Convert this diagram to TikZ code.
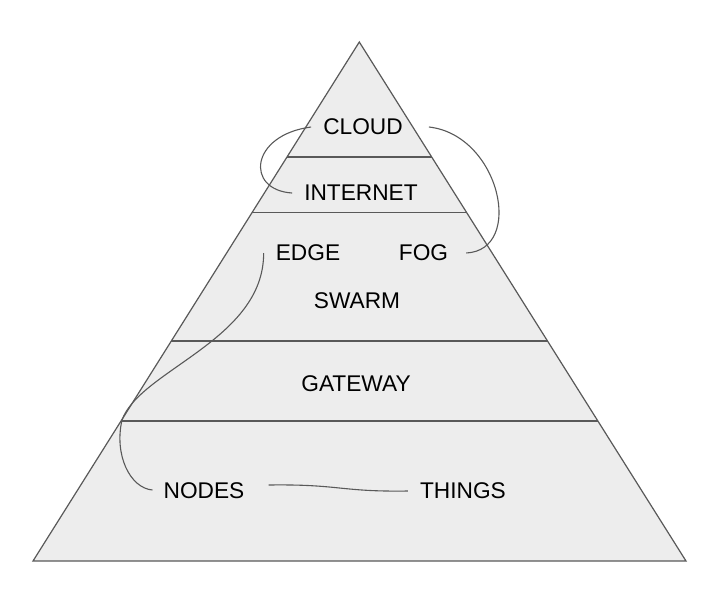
\documentclass[tikz,border=0pt]{standalone}
\usepackage{fontspec}
\setmainfont{Liberation Sans}
\usetikzlibrary{calc}
\begin{document}
\begin{tikzpicture}[x=1pt,y=-1pt,
  lbl/.style={inner sep=0pt,font=\fontsize{22.7}{27}\selectfont,text=black},
  edgeline/.style={draw=black!65,line width=1.2pt},
  conn/.style={draw=black!65,line width=1.1pt}]
\useasboundingbox (0,0) rectangle (722,590);
\coordinate (A) at (359.3,42);
\coordinate (BL) at (33,561);
\coordinate (BR) at (686,561);
\fill[black!7] (A) -- (BL) -- (BR) -- cycle;
% layer lines
\foreach \f in {0.2216,0.3285,0.5761,0.7303}{
  \draw[edgeline] ($(A)!\f!(BL)$) -- ($(A)!\f!(BR)$);
}
\draw[edgeline,line join=miter] (A) -- (BL) -- (BR) -- cycle;
% labels
\node[lbl] (cloud) at (363,127) {CLOUD};
\node[lbl] (internet) at (361,193) {INTERNET};
\node[lbl] (edge) at (308,253) {EDGE};
\node[lbl] (fog) at (423.5,253) {FOG};
\node[lbl] (swarm) at (357,301) {SWARM};
\node[lbl] (gateway) at (356,384) {GATEWAY};
\node[lbl] (nodes) at (204,491) {NODES};
\node[lbl] (things) at (463,491) {THINGS};
% connectors
\draw[conn] ($(cloud.west)+(-12,0)$) .. controls (250,135) and (245,190) .. ($(internet.west)+(-12,0)$);
\draw[conn] ($(cloud.east)+(26,0)$) .. controls (500,135) and (525,250) .. ($(fog.east)+(18,0)$);
\draw[conn] ($(edge.west)+(-12,0)$) .. controls (264,340) and (140,370) .. (122,420)
  .. controls (114,455) and (130,488) .. ($(nodes.west)+(-11,-1)$);
\draw[conn] ($(nodes.east)+(24,-6)$) .. controls (340,484) and (340,492) .. ($(things.west)+(-12,0)$);
\end{tikzpicture}
\end{document}
